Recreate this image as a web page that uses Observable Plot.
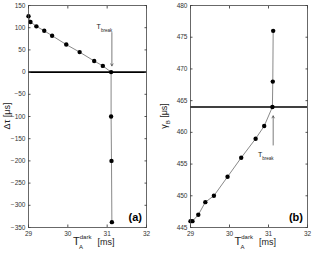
<!DOCTYPE html>
<html><head><meta charset="utf-8">
<script src="https://cdn.jsdelivr.net/npm/d3@7"></script>
<script src="https://cdn.jsdelivr.net/npm/@observablehq/plot@0.6"></script>
<style>
body{margin:0;background:#fff}
#c{display:flex;width:313px;height:254px;overflow:hidden}
</style>
</head><body><div id="c"></div>
<script>
// Panel (a): Δτ vs T_A^dark
const tA = [29.0, 29.05, 29.2, 29.4, 29.6, 29.96, 30.3, 30.67, 30.89, 31.1, 31.1, 31.11, 31.12];
const dTau = [126, 113, 103, 93, 82, 62, 45, 25, 14, 0, -100, -200, -338];
// Panel (b): γ_B vs T_A^dark
const tB = [29.0, 29.05, 29.2, 29.38, 29.6, 29.95, 30.3, 30.67, 30.89, 31.1, 31.11, 31.12];
const gammaB = [446, 446, 447, 449, 450, 453, 456, 459, 461, 464, 468, 476];

const xTicks = [29, 30, 31, 32];
const yTicksA = [150, 100, 50, 0, -50, -100, -150, -200, -250, -300, -350];
const yTicksB = [445, 450, 455, 460, 465, 470, 475, 480];

const breakX = 31.12;
const refA = 0, refB = 464;
const arrowA = {y1: 89, y2: 14};   // T_break arrow pointing down
const arrowB = {y1: 458, y2: 462.6}; // T_break arrow pointing up

function makePanel({xs, ys, yDomain, yTicks, width, ml, mr, ref, arrow, tag, ylab}) {
  const data = xs.map((x, i) => ({x, y: ys[i]}));
  const fs = 6.5;
  const p = Plot.plot({
    width, height: 254,
    marginLeft: ml, marginRight: mr, marginTop: 5, marginBottom: 27,
    style: {fontFamily: "Liberation Sans, Arial, sans-serif", background: "#fff", color: "#333"},
    x: {domain: [29, 32]},
    y: {domain: yDomain},
    marks: [
      Plot.ruleY([ref], {stroke: "#000", strokeWidth: 1.6}),
      Plot.line(data, {x: "x", y: "y", stroke: "#555", strokeWidth: 0.7}),
      Plot.dot(data, {x: "x", y: "y", r: 2.2, fill: "#000"}),
      Plot.arrow([arrow], {x1: () => breakX, x2: () => breakX, y1: "y1", y2: "y2", stroke: "#444", strokeWidth: 0.7, headLength: 5}),
      Plot.axisY({anchor: "left", ticks: yTicks, tickSize: 0, tickPadding: 3, fontSize: fs, label: null, tickFormat: "d"}),
      Plot.axisY({anchor: "left", ticks: yTicks, tickSize: -2.5, tickFormat: () => "", label: null, stroke: "#555"}),
      Plot.axisY({anchor: "right", ticks: yTicks, tickSize: -2.5, tickFormat: () => "", label: null, stroke: "#555"}),
      Plot.axisX({anchor: "bottom", ticks: xTicks, tickSize: 0, tickPadding: 4, fontSize: fs, label: null, tickFormat: "d"}),
      Plot.axisX({anchor: "bottom", ticks: xTicks, tickSize: -2.5, tickFormat: () => "", label: null, stroke: "#555"}),
      Plot.axisX({anchor: "top", ticks: xTicks, tickSize: -2.5, tickFormat: () => "", label: null, stroke: "#555"}),
      Plot.frame({stroke: "#444", strokeWidth: 0.8})
    ]
  });
  const sx = p.scale("x");
  const svg = d3.select(p);
  const font = "Liberation Sans, Arial, sans-serif";
  // x label
  const cx = (ml + width - mr) / 2;
  const xl = svg.append("text").attr("font-family", font).attr("fill", "#222")
    .attr("x", cx - 14).attr("y", 245).attr("text-anchor", "start");
  xl.append("tspan").attr("font-size", 11).text("T");
  xl.append("tspan").attr("font-size", 6).attr("dy", -6).text("dark");
  xl.append("tspan").attr("font-size", 6).attr("x", cx - 8).attr("dy", 10).text("A");
  xl.append("tspan").attr("font-size", 9).attr("x", cx + 8).attr("dy", -4).text(" [ms]");
  // y label
  const yc = (5 + 254 - 27) / 2;
  const yl = svg.append("text").attr("font-family", font).attr("fill", "#222")
    .attr("transform", `translate(${ylab.x},${yc}) rotate(-90)`).attr("text-anchor", "middle").attr("font-size", 9);
  yl.append("tspan").text(ylab.main);
  if (ylab.sub) yl.append("tspan").attr("font-size", 6).attr("dy", 3).text(ylab.sub);
  yl.append("tspan").attr("dy", ylab.sub ? -3 : 0).text(" [μs]");
  // tag
  svg.append("text").attr("font-family", font).attr("font-weight", "bold").attr("font-size", 11).attr("fill", "#000")
    .attr("x", width - mr - 4).attr("y", 254 - 27 - 6).attr("text-anchor", "end").text(tag);
  // T_break label
  const bx = sx.apply(breakX);
  const ty = tag === "(a)" ? 29 : 157;
  const tb = svg.append("text").attr("font-family", font).attr("fill", "#222").attr("font-size", 7)
    .attr("x", bx - 7).attr("y", ty);
  tb.append("tspan").text("T");
  tb.append("tspan").attr("font-size", 4.5).attr("dy", 2.5).text("break");
  return p;
}

const c = document.getElementById("c");
c.appendChild(makePanel({xs: tA, ys: dTau, yDomain: [-350, 150], yTicks: yTicksA, width: 155, ml: 28, mr: 9,
  ref: refA, arrow: arrowA, tag: "(a)", ylab: {x: 10, main: "Δτ", sub: null}}));
c.appendChild(makePanel({xs: tB, ys: gammaB, yDomain: [445, 480], yTicks: yTicksB, width: 158, ml: 35, mr: 6,
  ref: refB, arrow: arrowB, tag: "(b)", ylab: {x: 12, main: "γ", sub: "B"}}));
</script>
</body></html>
